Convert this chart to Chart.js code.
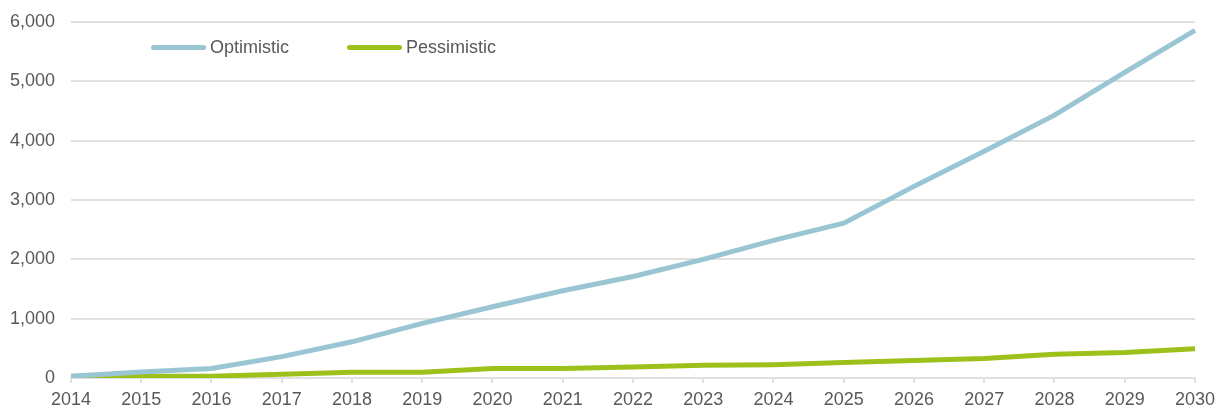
<!DOCTYPE html>
<html>
<head>
<meta charset="utf-8">
<script src="https://cdn.jsdelivr.net/npm/chart.js@4"></script>
<style>
  body { margin: 0; background: #fff; }
  #wrap { position: relative; width: 1221px; height: 409px; }
  .legend { position: absolute; top: 37px; font: 18px "Liberation Sans", Arial, sans-serif; color: #595959; display: flex; align-items: center; }
  .swatch { width: 55px; height: 5px; border-radius: 3px; margin-right: 4px; }
</style>
</head>
<body>
<div id="wrap">
  <canvas id="myChart" width="1221" height="409"></canvas>
  <div class="legend" style="left:151px"><div class="swatch" style="background:#9AC6D3"></div>Optimistic</div>
  <div class="legend" style="left:347px"><div class="swatch" style="background:#9DC11A"></div>Pessimistic</div>
</div>
<script>
const years = ['2014', '2015', '2016', '2017', '2018', '2019', '2020', '2021', '2022',
               '2023', '2024', '2025', '2026', '2027', '2028', '2029', '2030'];
const optimistic = [30, 100, 160, 360, 610, 920, 1200, 1470, 1710, 2000, 2320, 2610, 3230, 3820, 4430, 5150, 5860];
const pessimistic = [30, 30, 30, 65, 95, 95, 160, 160, 185, 215, 225, 260, 295, 330, 400, 430, 495];
const yTicks = [0, 1000, 2000, 3000, 4000, 5000, 6000];

const textColor = '#595959';
const gridColor = '#E0E0E0';
const numberFormat = new Intl.NumberFormat('en-US');

Chart.defaults.font.family = '"Liberation Sans", Arial, sans-serif';
Chart.defaults.font.size = 18;
Chart.defaults.color = textColor;

const ctx = document.getElementById('myChart').getContext('2d');
const myChart = new Chart(ctx, {
    type: 'line',
    data: {
        labels: years,
        datasets: [{
            label: 'Optimistic',
            data: optimistic,
            borderColor: '#9AC6D3',
            borderWidth: 5,
            pointRadius: 0,
            tension: 0
        }, {
            label: 'Pessimistic',
            data: pessimistic,
            borderColor: '#9DC11A',
            borderWidth: 5,
            pointRadius: 0,
            tension: 0
        }]
    },
    options: {
        responsive: false,
        animation: false,
        layout: { padding: { top: 22, right: 21, left: 0, bottom: 0 } },
        plugins: {
            legend: { display: false },
            tooltip: { enabled: false }
        },
        scales: {
            x: {
                offset: false,
                afterFit: function (scale) { scale.height = 31; },
                grid: { drawOnChartArea: false, drawTicks: true, tickLength: 5, color: gridColor, lineWidth: 2 },
                border: { color: gridColor, width: 2 },
                ticks: { padding: 6, maxRotation: 0, autoSkip: false }
            },
            y: {
                min: 0,
                max: 6000,
                afterBuildTicks: function (scale) {
                    scale.ticks = yTicks.map(v => ({ value: v }));
                },
                afterFit: function (scale) {
                    scale.width = 71;
                    scale.paddingTop = 0;
                    scale.paddingBottom = 0;
                },
                grid: { drawTicks: false, color: gridColor, lineWidth: 2 },
                border: { display: false },
                ticks: {
                    padding: 16,
                    callback: v => numberFormat.format(v)
                }
            }
        }
    }
});
</script>
</body>
</html>
